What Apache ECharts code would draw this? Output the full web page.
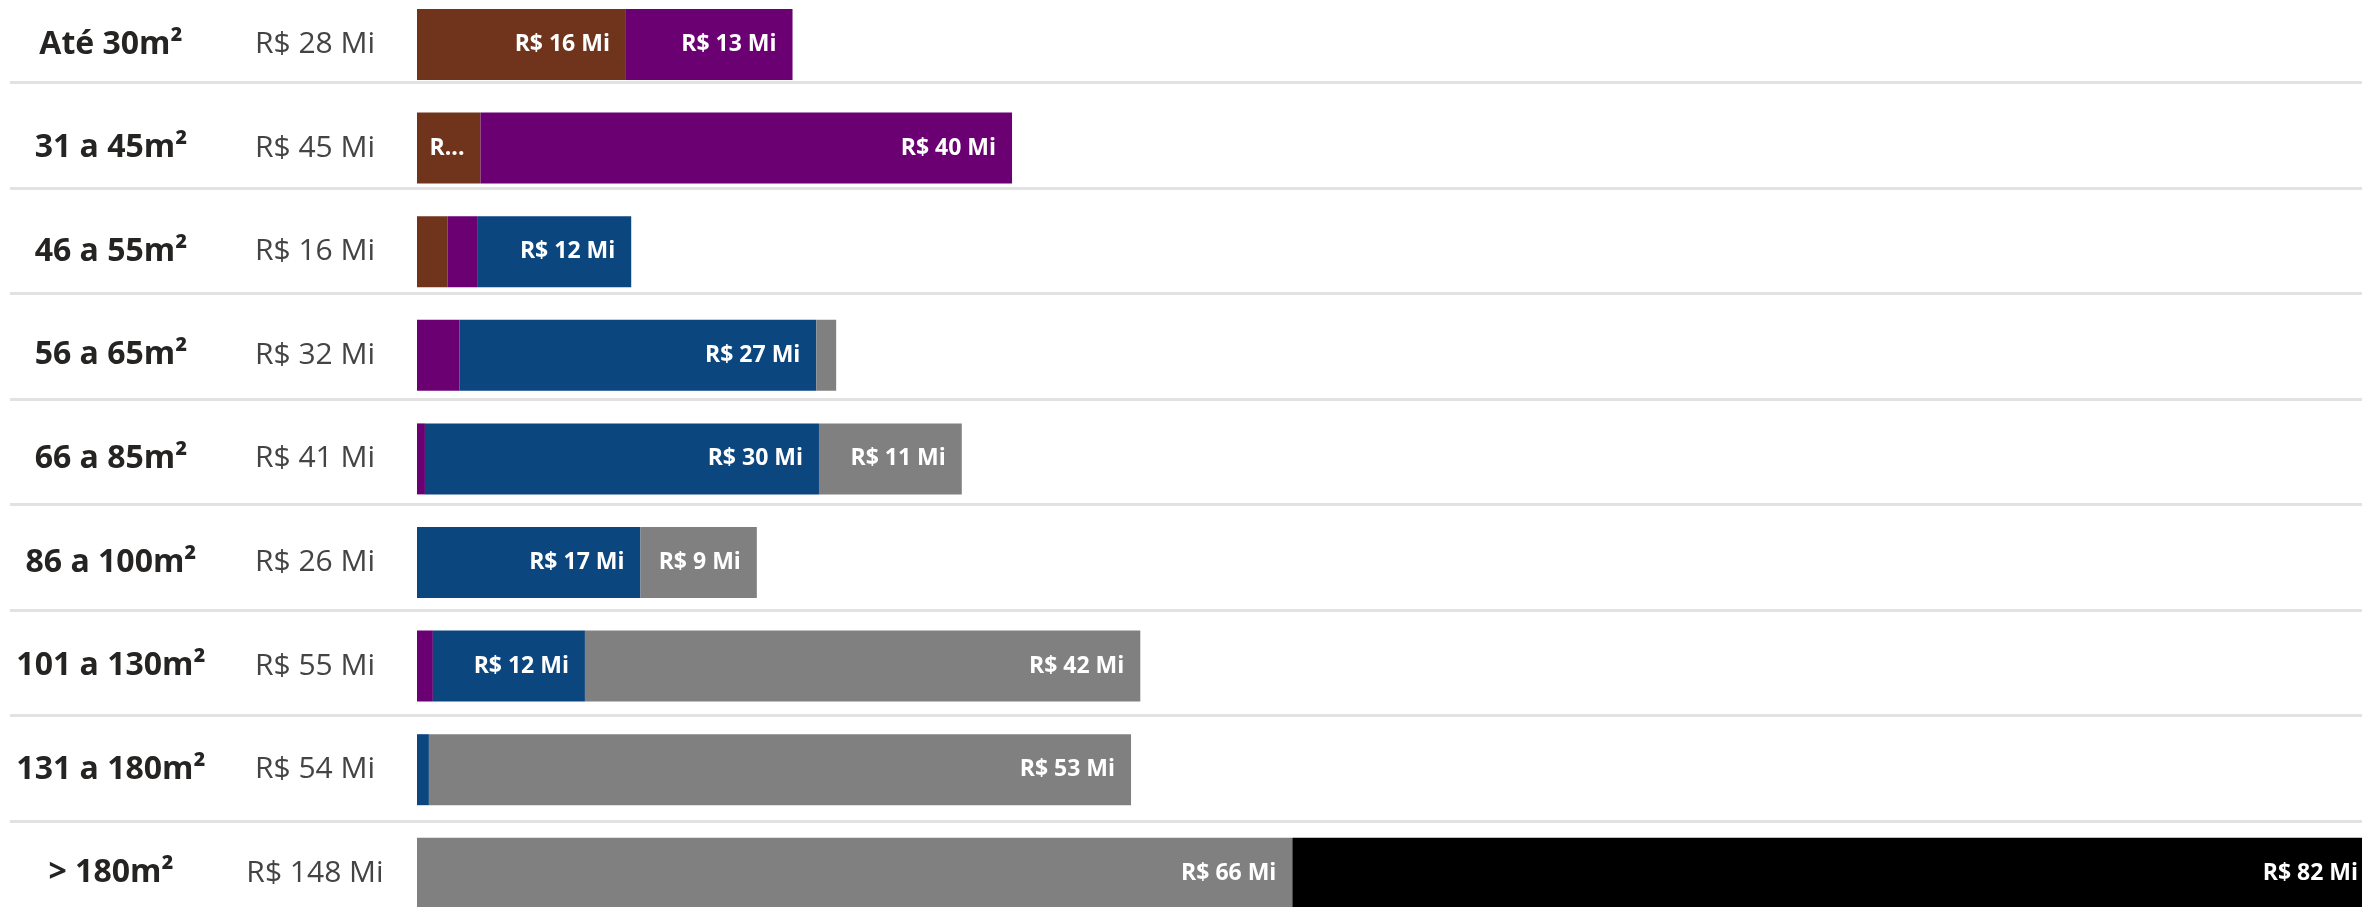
<!DOCTYPE html>
<html>
<head>
<meta charset="utf-8">
<script src="https://cdn.jsdelivr.net/npm/echarts@6/dist/echarts.min.js"></script>
<style>
	html, body { margin: 0; padding: 0; background: #ffffff; }
	#chart { width: 2362px; height: 907px; }
</style>
</head>
<body>
<div id="chart"></div>
<script>
// faixas de area
var categories = [ 'Até 30m²', '31 a 45m²', '46 a 55m²', '56 a 65m²', '66 a 85m²',
		'86 a 100m²', '101 a 130m²', '131 a 180m²', '> 180m²' ];

// valores em R$ Mi, um array por cor da pilha
var serieMarrom = [ 15.8, 4.8, 2.3, 0, 0, 0, 0, 0, 0 ];
var serieRoxo = [ 12.6, 40.2, 2.3, 3.2, 0.6, 0, 1.2, 0, 0 ];
var serieAzul = [ 0, 0, 11.6, 27.0, 29.8, 16.9, 11.5, 0.9, 0 ];
var serieCinza = [ 0, 0, 0, 1.5, 10.8, 8.8, 42.0, 53.1, 66.2 ];
var seriePreto = [ 0, 0, 0, 0, 0, 0, 0, 0, 81.8 ];

var allSeries = [ serieMarrom, serieRoxo, serieAzul, serieCinza, seriePreto ];
var seriesNames = [ 'Categoria 1', 'Categoria 2', 'Categoria 3', 'Categoria 4', 'Categoria 5' ];
var colors = [ '#70341c', '#6b0073', '#0b467f', '#808080', '#000000' ];

// total por linha, somado das series
var totals = categories.map(function(c, i) {
	var s = 0;
	allSeries.forEach(function(arr) { s += arr[i]; });
	return s;
});

function fmtMi(v) {
	return 'R$ ' + Math.round(v) + ' Mi';
}

function showChart() {
	var myChart = echarts.init(document.getElementById('chart'));

	var series = allSeries.map(function(arr, k) {
		return {
			name : seriesNames[k],
			type : 'bar',
			stack : 'total',
			xAxisIndex : 0,
			yAxisIndex : 0,
			barWidth : 71,
			itemStyle : { color : colors[k] },
			label : {
				show : true,
				position : 'insideRight',
				distance : 16,
				color : '#ffffff',
				fontFamily : 'Open Sans',
				fontWeight : 'bold',
				fontSize : 23,
				formatter : function(p) {
					var v = p.value;
					if (v >= 8) return fmtMi(v);
					if (v >= 4) return 'R...';
					return '';
				}
			},
			data : arr
		};
	});

	var option = {
		animation : false,
		backgroundColor : '#ffffff',
		grid : [ {
			left : 417,
			right : -12,
			top : -7.3,
			bottom : -18.1,
			outerBoundsMode : 'none'
		}, {
			// grade so para as linhas separadoras
			left : 10,
			right : 0,
			top : -23,
			bottom : -19.5,
			outerBoundsMode : 'none'
		} ],
		xAxis : [ {
			type : 'value',
			gridIndex : 0,
			min : 0,
			max : 148,
			show : false
		}, {
			type : 'value',
			gridIndex : 1,
			min : 0,
			max : 1,
			show : false
		} ],
		yAxis : [ {
			type : 'category',
			gridIndex : 0,
			inverse : true,
			data : categories,
			axisLine : { show : false },
			axisTick : { show : false },
			axisLabel : {
				margin : 306,
				align : 'center',
				color : '#252423',
				fontFamily : 'Open Sans',
				fontWeight : 'bold',
				fontSize : 32,
				padding : [ 12, 0, 0, 0 ]
			}
		}, {
			type : 'category',
			gridIndex : 0,
			position : 'left',
			inverse : true,
			data : categories,
			axisLine : { show : false },
			axisTick : { show : false },
			axisLabel : {
				margin : 102,
				align : 'center',
				color : '#444444',
				fontFamily : 'Open Sans',
				fontSize : 30,
				padding : [ 0, 0, 10, 0 ],
				formatter : function(value, idx) {
					return fmtMi(totals[idx]);
				}
			}
		}, {
			type : 'category',
			gridIndex : 1,
			inverse : true,
			data : categories,
			axisLine : { show : false },
			axisTick : { show : false },
			axisLabel : { show : false },
			splitLine : {
				show : true,
				lineStyle : { color : '#e2e2e2', width : 3 }
			}
		} ],
		series : series
	};

	myChart.setOption(option);
}
showChart();
</script>
</body>
</html>
